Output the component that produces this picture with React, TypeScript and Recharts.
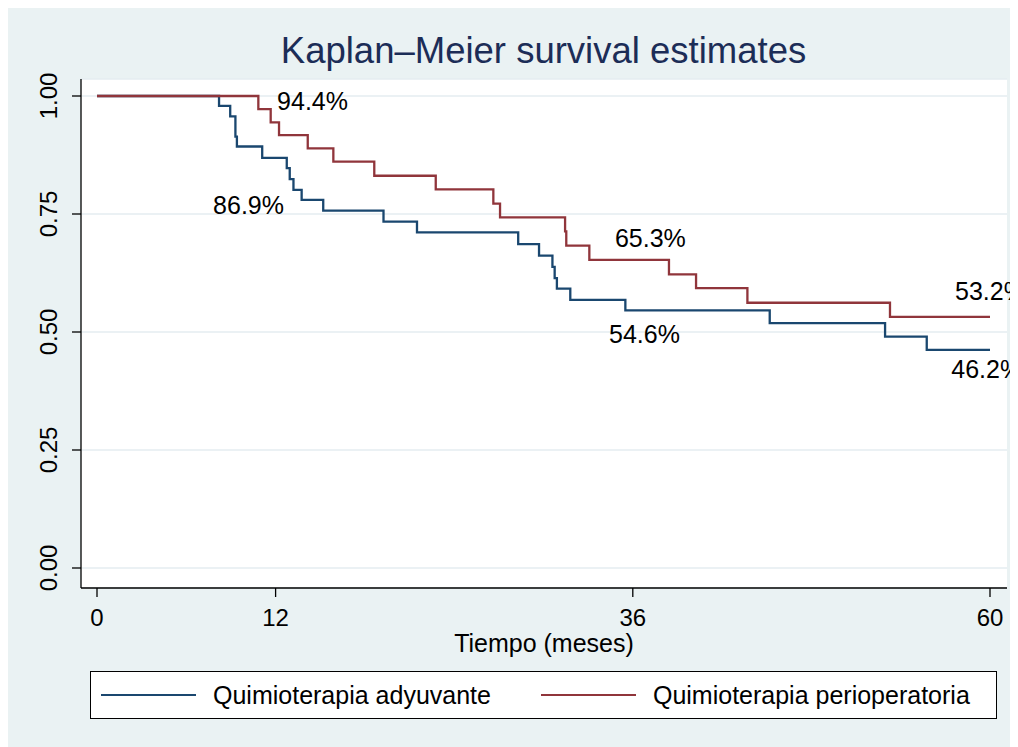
import { ComposedChart, Line, Scatter, XAxis, YAxis, CartesianGrid, Legend } from 'recharts'

const FONT = "'Liberation Sans', Arial, Helvetica, sans-serif"
const BG = '#eaf2f3'

const monthTicks = [0, 12, 36, 60]
const survTicks = [0, 0.25, 0.5, 0.75, 1]

// curvas KM (tiempo en meses, supervivencia)
const adyT = [0, 8.2, 8.95, 9.3, 9.4, 11.1, 12.75, 12.95, 13.2, 13.75, 15.2, 19.25, 21.5, 28.3, 29.7, 30.6, 30.75, 30.9, 31.8, 35.5, 45.2, 52.95, 55.75, 60]
const adyS = [1, 0.979, 0.957, 0.914, 0.893, 0.869, 0.847, 0.824, 0.801, 0.78, 0.757, 0.734, 0.711, 0.686, 0.662, 0.638, 0.614, 0.592, 0.568, 0.546, 0.519, 0.49, 0.462, 0.462]

const periT = [0, 10.84, 11.67, 12.23, 14.16, 15.88, 18.63, 22.76, 26.63, 27.08, 31.45, 31.53, 33.08, 38.43, 40.25, 43.7, 53.28, 60]
const periS = [1, 0.972, 0.944, 0.917, 0.889, 0.861, 0.831, 0.802, 0.772, 0.743, 0.713, 0.683, 0.653, 0.622, 0.593, 0.562, 0.532, 0.532]

// etiquetas de porcentaje (posición = borde izquierdo del texto)
const noteText = ['94.4%', '86.9%', '65.3%', '54.6%', '53.2%', '46.2%']
const noteT = [12.1, 7.8, 34.8, 34.4, 57.65, 57.4]
const noteS = [0.989, 0.769, 0.699, 0.496, 0.586, 0.421]

const seriesNames = ['Quimioterapia adyuvante', 'Quimioterapia perioperatoria']
const seriesColors = ['#1a476f', '#90353b']

const zip = (t: number[], s: number[]) => t.map((v, i) => ({ t: v, s: s[i] }))
const notes = noteT.map((t, i) => ({ t, s: noteS[i], label: noteText[i] }))

function YTick(props: any) {
  const { x, y, payload } = props
  const bx = x - 15
  return (
    <text x={bx} y={y} transform={`rotate(-90 ${bx} ${y})`} textAnchor="middle" fontSize={24} fill="#000">
      {Number(payload.value).toFixed(2)}
    </text>
  )
}

function NoteShape(props: any) {
  const { cx, cy, payload } = props
  return (
    <text x={cx} y={cy} dy="0.36em" fontSize={25} fill="#000">
      {payload.label}
    </text>
  )
}

function KmLegend() {
  return (
    <div
      style={{
        boxSizing: 'border-box',
        width: 907,
        height: 48,
        border: '1px solid #000',
        background: '#fff',
        display: 'flex',
        alignItems: 'center',
        paddingLeft: 10,
        fontSize: 25,
        fontFamily: FONT,
        color: '#000',
      }}
    >
      {seriesNames.map((n, i) => (
        <div key={n} style={{ display: 'flex', alignItems: 'center', marginRight: i === 0 ? 50 : 0 }}>
          <span style={{ display: 'inline-block', width: 95, height: 2, background: seriesColors[i], marginRight: 17 }} />
          <span>{n}</span>
        </div>
      ))}
    </div>
  )
}

export default function App() {
  return (
    <div style={{ width: 1010, height: 739, background: BG, fontFamily: FONT }}>
      <ComposedChart width={1010} height={739} margin={{ top: 71, right: 11, bottom: 41, left: 0 }}>
        <text x={535.5} y={55} textAnchor="middle" fontSize={36.5} fill="#1c2d57">
          Kaplan–Meier survival estimates
        </text>
        <CartesianGrid vertical={false} stroke="#e4edf0" strokeWidth={1.5} fill="#fff" fillOpacity={1} />
        <XAxis
          type="number"
          dataKey="t"
          domain={[0, 60]}
          ticks={monthTicks}
          padding={{ left: 16, right: 17 }}
          height={70}
          tickSize={9}
          tickMargin={12}
          axisLine={{ stroke: '#000', strokeWidth: 1.3 }}
          tickLine={{ stroke: '#000', strokeWidth: 1.3 }}
          tick={{ fontSize: 24, fill: '#000' }}
          label={{
            content: (p: any) => (
              <text x={p.viewBox.x + p.viewBox.width / 2} y={p.viewBox.y + 64} textAnchor="middle" fontSize={25} fill="#000">
                Tiempo (meses)
              </text>
            ),
          }}
        />
        <YAxis
          type="number"
          dataKey="s"
          domain={[0, 1]}
          ticks={survTicks}
          padding={{ top: 17, bottom: 20 }}
          width={73}
          tickSize={9}
          tickMargin={0}
          axisLine={{ stroke: '#000', strokeWidth: 1.3 }}
          tickLine={{ stroke: '#000', strokeWidth: 1.3 }}
          tick={YTick}
        />
        <Line
          data={zip(adyT, adyS)}
          dataKey="s"
          name={seriesNames[0]}
          type="stepAfter"
          stroke={seriesColors[0]}
          strokeWidth={2.3}
          dot={false}
          activeDot={false}
          isAnimationActive={false}
        />
        <Line
          data={zip(periT, periS)}
          dataKey="s"
          name={seriesNames[1]}
          type="stepAfter"
          stroke={seriesColors[1]}
          strokeWidth={2.3}
          dot={false}
          activeDot={false}
          isAnimationActive={false}
        />
        <Scatter data={notes} dataKey="s" shape={NoteShape} legendType="none" isAnimationActive={false} />
        <Legend content={KmLegend} height={48} wrapperStyle={{ left: 82, bottom: 28, width: 907, height: 48 }} />
      </ComposedChart>
    </div>
  )
}
